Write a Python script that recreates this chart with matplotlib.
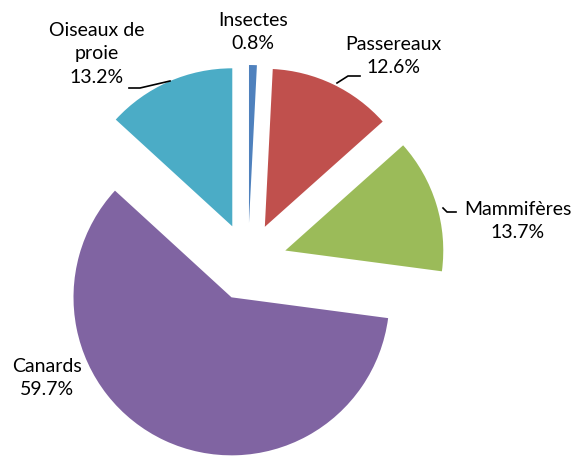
import matplotlib.pyplot as plt

plt.rcParams['font.family'] = ['Lato', 'DejaVu Sans']

categories = ['Insectes', 'Passereaux', 'Mammifères', 'Canards', 'Oiseaux de\nproie']
values = [0.8, 12.6, 13.7, 59.7, 13.2]
colors = ['#4F81BD', '#C0504D', '#9BBB59', '#8064A2', '#4BACC6']

W, H = 577, 457
fig = plt.figure(figsize=(W / 100, H / 100), dpi=100)
ax = fig.add_axes([0, 0, 1, 1])

# work in pixel units, y going up (explode is in data units here)
cx, cy = 248, H - 262
radius = 158
ax.pie(values, colors=colors, startangle=90, counterclock=False,
       explode=[39] * len(values), center=(cx, cy), radius=radius,
       wedgeprops=dict(linewidth=0))

# label positions (pixels from top-left) and leader lines
label_pos = [(253, 32), (393, 56), (518, 221), (47, 378), (97, 54)]
leaders = [None,
           [(337, 83), (348, 76), (360, 76)],
           [(443, 208), (447, 212), (456, 212)],
           None,
           [(129, 88), (140, 88), (170, 81)]]

for cat, v, (x, y), ld in zip(categories, values, label_pos, leaders):
    ax.text(x, H - y, f'{cat}\n{v:.1f}%', ha='center', va='center',
            fontsize=14, linespacing=1.45, color='black')
    if ld:
        ax.plot([p[0] for p in ld], [H - p[1] for p in ld], color='black', lw=1.2)

ax.set_xlim(0, W)
ax.set_ylim(0, H)
ax.set_aspect('equal')
ax.axis('off')

fig.savefig('out.png', dpi=100)
